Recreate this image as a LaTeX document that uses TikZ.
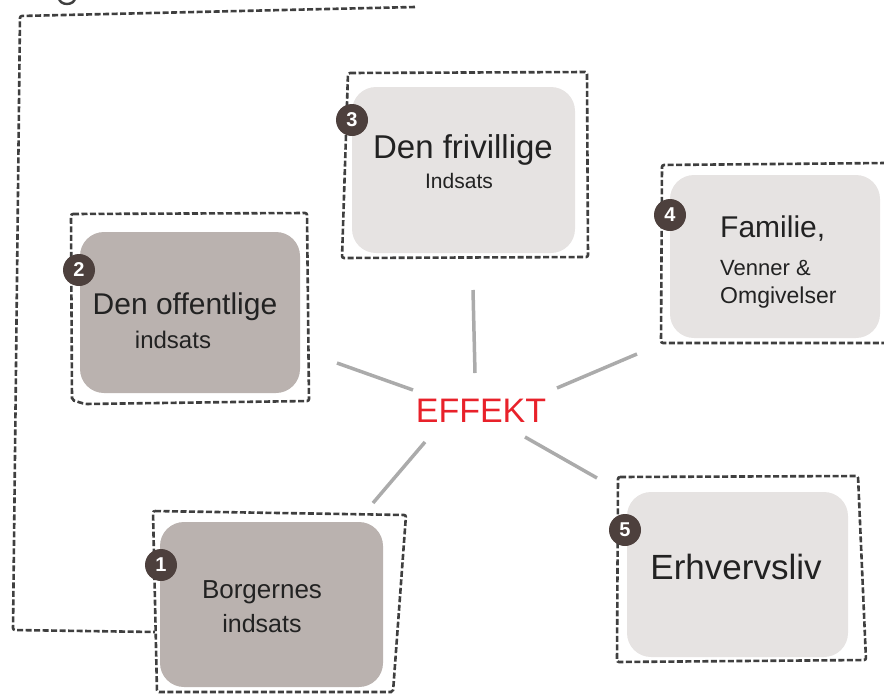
\documentclass[tikz,border=0pt]{standalone}
\usepackage{fontspec}
\setmainfont{Liberation Sans}
\definecolor{darkfill}{HTML}{BAB2AF}
\definecolor{lightfill}{HTML}{E6E3E2}
\definecolor{badgecol}{HTML}{4D403D}
\definecolor{framecol}{HTML}{3F3F3F}
\definecolor{spokecol}{HTML}{ABABAB}
\definecolor{effred}{HTML}{E8212A}
\definecolor{inkcol}{HTML}{222222}
\newcommand{\fs}[1]{\fontsize{#1}{#1}\selectfont}
\tikzset{
  frame/.style={draw=framecol, line width=2.6pt, dash pattern=on 6pt off 2.5pt, rounded corners=2pt},
  boxshape/.style={draw=none, rounded corners=24pt, inner sep=0pt},
  badge/.style={circle, fill=badgecol, text=white, minimum size=32pt, inner sep=0pt, font=\fs{20}\bfseries},
  spoke/.style={draw=spokecol, line width=3.5pt},
  label/.style={text=inkcol, inner sep=0pt, align=center},
}
\begin{document}
\begin{tikzpicture}[x=1pt,y=-1pt]
\useasboundingbox (0,0) rectangle (884,694);

% outer loop
\coordinate (l1) at (415,7);
\coordinate (l2) at (20,16);
\coordinate (l3) at (13,630);
\coordinate (l4) at (155,632);
\draw[frame] (l1) -- (l2) -- (l3) -- (l4);
% cut-off fragment at top
\draw[draw=framecol, line width=2.4pt] (59,-2) arc[start angle=180, end angle=360, x radius=8pt, y radius=6pt];

% frames
\draw[frame] (348,73) -- (587,72) -- (588,257) -- (342,258) -- cycle;
\draw[frame] (71,214) -- (307,213) -- (309,401) -- (85,404) -- (72,400) -- cycle;
\draw[frame] (886,163) -- (662,165) -- (661,343) -- (886,343);
\draw[frame] (618,477) -- (858,476) -- (866,660) -- (617,662) -- cycle;
\draw[frame] (153,511) -- (406,515) -- (393,692) -- (157,692) -- cycle;

% boxes
\node[boxshape, fill=lightfill, minimum width=223pt, minimum height=166pt] (b3) at (463.5,170) {};
\node[boxshape, fill=darkfill, minimum width=220pt, minimum height=161pt] (b2) at (190,312.5) {};
\node[boxshape, fill=lightfill, minimum width=210pt, minimum height=163pt] (b4) at (775,256.5) {};
\node[boxshape, fill=lightfill, minimum width=221pt, minimum height=165pt] (b5) at (737.5,574.5) {};
\node[boxshape, fill=darkfill, minimum width=223pt, minimum height=165pt] (b1) at (271.5,604.5) {};

% texts
\node[label, font=\fs{33}] (t3a) at (463,150) {Den frivillige};
\node[label, font=\fs{21}] (t3b) at (459,181) {Indsats};
\node[label, font=\fs{30}] (t2a) at (185,307) {Den offentlige};
\node[label, font=\fs{24}] (t2b) at (173,340) {indsats};
\node[label, font=\fs{30}, anchor=west] (t4a) at (720,229) {Familie,};
\node[label, font=\fs{22}, anchor=west] (t4b) at (720,268) {Venner \&};
\node[label, font=\fs{23}, anchor=west] (t4c) at (720,298) {Omgivelser};
\node[label, font=\fs{35}] (t5) at (736,567) {Erhvervsliv};
\node[label, font=\fs{26}] (t1a) at (262,592) {Borgernes};
\node[label, font=\fs{25}] (t1b) at (262,624) {indsats};

% badges
\node[badge] (n3) at (352,120) {3};
\node[badge] (n2) at (79,270) {2};
\node[badge] (n4) at (670,215) {4};
\node[badge] (n5) at (625,530) {5};
\node[badge] (n1) at (161,565) {1};

% center
\node[text=effred, font=\fs{34}, inner sep=0pt] (eff) at (481,411) {EFFEKT};

% spokes
\coordinate (s1a) at (337,363); \coordinate (s1b) at (413,390);
\coordinate (s2a) at (473,290); \coordinate (s2b) at (475,373);
\coordinate (s3a) at (557,388); \coordinate (s3b) at (637,354);
\coordinate (s4a) at (425,442); \coordinate (s4b) at (373,503);
\coordinate (s5a) at (525,437); \coordinate (s5b) at (597,478);
\draw[spoke] (s1a) -- (s1b);
\draw[spoke] (s2a) -- (s2b);
\draw[spoke] (s3a) -- (s3b);
\draw[spoke] (s4a) -- (s4b);
\draw[spoke] (s5a) -- (s5b);
\end{tikzpicture}
\end{document}
